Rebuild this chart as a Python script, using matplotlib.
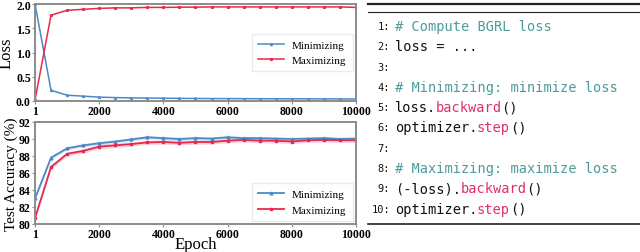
import numpy as np
import matplotlib.pyplot as plt
from matplotlib.lines import Line2D

plt.rcParams['font.family'] = 'serif'
plt.rcParams['font.serif'] = ['Liberation Serif', 'Times New Roman', 'DejaVu Serif']

# Data
epochs = [1] + list(range(500, 10001, 500))
loss_min = [2.0, 0.22, 0.12, 0.10, 0.08, 0.07, 0.065, 0.06, 0.058, 0.055, 0.052,
            0.05, 0.05, 0.048, 0.047, 0.046, 0.045, 0.045, 0.044, 0.043, 0.042]
loss_max = [0.02, 1.77, 1.87, 1.89, 1.91, 1.92, 1.92, 1.93, 1.93, 1.935, 1.935,
            1.94, 1.94, 1.94, 1.94, 1.94, 1.94, 1.94, 1.94, 1.94, 1.93]
acc_min = [83.0, 87.8, 88.9, 89.25, 89.5, 89.7, 89.95, 90.2, 90.1, 90.0, 90.1,
           90.05, 90.2, 90.1, 90.1, 90.05, 90.0, 90.05, 90.1, 90.0, 90.05]
acc_max = [80.7, 86.7, 88.25, 88.6, 89.1, 89.25, 89.4, 89.6, 89.65, 89.55, 89.65,
           89.65, 89.8, 89.9, 89.8, 89.8, 89.7, 89.85, 89.9, 89.85, 89.85]
acc_min_std = 0.2
acc_max_std = 0.25
xticks = [1, 2000, 4000, 6000, 8000, 10000]

code_lines = [
    [("# Compute BGRL loss", "c")],
    [("loss = ...", "k")],
    [],
    [("# Minimizing: minimize loss", "c")],
    [("loss.", "k"), ("backward", "m"), ("()", "k")],
    [("optimizer.", "k"), ("step", "m"), ("()", "k")],
    [],
    [("# Maximizing: maximize loss", "c")],
    [("(-loss).", "k"), ("backward", "m"), ("()", "k")],
    [("optimizer.", "k"), ("step", "m"), ("()", "k")],
]

blue = '#4a8ac6'
red = '#e8284f'
code_colors = {"c": '#4f9a9a', "k": '#111111', "m": '#e0306a'}

W, H = 640, 253
fig = plt.figure(figsize=(6.4, 2.53), dpi=100)
ax1 = fig.add_axes([35 / W, 1 - 102 / H, 321 / W, 97 / H])
ax2 = fig.add_axes([35 / W, 1 - 225 / H, 321 / W, 102 / H])


def style(ax):
    for s in ax.spines.values():
        s.set_color('#8c8c8c')
        s.set_linewidth(1.4)
    ax.set_xlim(1, 10000)
    ax.set_xticks(xticks)
    ax.tick_params(length=2, width=0.8, color='#8c8c8c', pad=1, labelsize=8.5)
    for lab in ax.get_xticklabels() + ax.get_yticklabels():
        lab.set_fontweight('bold')


leg_kw = dict(fontsize=8, frameon=True, edgecolor='#e6e6e6', handlelength=2.4,
              handletextpad=0.7, borderpad=0.55, labelspacing=0.5,
              borderaxespad=0.3, fancybox=False)

ax1.plot(epochs, loss_min, color=blue, lw=1.1, marker='^', ms=1.4, label='Minimizing')
ax1.plot(epochs, loss_max, color=red, lw=1.1, marker='s', ms=1.2, label='Maximizing')
ax1.set_ylim(0, 2.0)
ax1.set_yticks([0.0, 0.5, 1.0, 1.5, 2.0])
ax1.set_ylabel('Loss', fontsize=12, labelpad=1)
style(ax1)
ax1.legend(loc='center right', **leg_kw)

a_min = np.array(acc_min)
a_max = np.array(acc_max)
ax2.fill_between(epochs, a_min - acc_min_std, a_min + acc_min_std, color=blue, alpha=0.2, lw=0)
ax2.fill_between(epochs, a_max - acc_max_std, a_max + acc_max_std, color=red, alpha=0.2, lw=0)
ax2.plot(epochs, acc_min, color=blue, lw=1.3, marker='^', ms=2.0, label='Minimizing')
ax2.plot(epochs, acc_max, color=red, lw=1.3, marker='s', ms=1.8, label='Maximizing')
ax2.set_ylim(80, 92)
ax2.set_yticks([80, 82, 84, 86, 88, 90, 92])
ax2.set_ylabel('Test Accuracy (%)', fontsize=11, labelpad=1)
ax2.set_xlabel('Epoch', fontsize=12)
ax2.xaxis.set_label_coords(0.5, -0.115)
style(ax2)
ax2.legend(loc='lower right', **leg_kw)

# Code panel
fig.add_artist(Line2D([368 / W, 1], [1 - 4.5 / H] * 2, color='#222222', lw=1.6))
fig.add_artist(Line2D([368 / W, 1], [1 - 13 / H] * 2, color='#222222', lw=0.8))
fig.add_artist(Line2D([368 / W, 1], [1 - 225 / H] * 2, color='#222222', lw=1.2))

fs = 9.8
cw = 0.602 * fs * 100 / 72  # monospace advance in px
x0 = 395
for i, segs in enumerate(code_lines):
    y = 1 - (27 + i * 20.3) / H
    fig.text(390 / W, y, f"{i + 1}:", ha='right', va='center', fontsize=7.5,
             family='DejaVu Sans Mono', color='#111111')
    n = 0
    for txt, c in segs:
        fig.text((x0 + n * cw) / W, y, txt, ha='left', va='center', fontsize=fs,
                 family='DejaVu Sans Mono', color=code_colors[c])
        n += len(txt)

fig.savefig('out.png', dpi=100)
